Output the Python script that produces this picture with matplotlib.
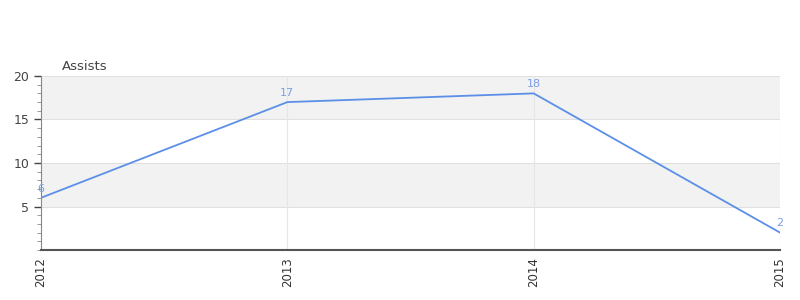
import matplotlib.pyplot as plt
from matplotlib.ticker import MultipleLocator

years = ['2012', '2013', '2014', '2015']
assists = [6, 17, 18, 2]

fig = plt.figure(figsize=(8, 3), dpi=100)
ax = fig.add_axes([41 / 800, 1 - 250 / 300, 739 / 800, 174 / 300])

x = list(range(len(years)))

# alternating bands
for lo in (5, 15):
    ax.axhspan(lo, lo + 5, color='#f2f2f2', zorder=0, lw=0)
for y in (5, 10, 15, 20):
    ax.axhline(y, color='#e0e0e0', lw=0.8, zorder=1)
for xi in x:
    ax.axvline(xi, color='#e6e6e6', lw=0.8, zorder=1)

ax.plot(x, assists, color='#5b8fe8', lw=1.3, zorder=3)
for xi, v in zip(x, assists):
    ax.annotate(str(v), (xi, v), xytext=(0, 3), textcoords='offset points',
                ha='center', va='bottom', fontsize=8, color='#7a9ee6', zorder=4)

ax.axhline(0, color='#cc0000', lw=1.2, zorder=2)

ax.set_xlim(0, 3)
ax.set_ylim(0, 20)
ax.set_xticks(x)
ax.set_xticklabels(years, rotation=90, fontsize=8.5, color='#333333')
ax.set_yticks([5, 10, 15, 20])
ax.yaxis.set_minor_locator(MultipleLocator(1))
ax.tick_params(axis='y', labelsize=9, colors='#444444', length=5, width=1)
ax.tick_params(axis='y', which='minor', length=3, color='#888888')
ax.tick_params(axis='x', length=0, pad=5)

for s in ('top', 'right'):
    ax.spines[s].set_visible(False)
ax.spines['left'].set_color('#888888')
ax.spines['bottom'].set_color('#555555')
ax.spines['bottom'].set_linewidth(1.5)
ax.spines['bottom'].set_zorder(5)

fig.text(62 / 800, 1 - 66 / 300, 'Assists', fontsize=9.5, color='#444444', va='center')

fig.savefig('out.png', dpi=100)
